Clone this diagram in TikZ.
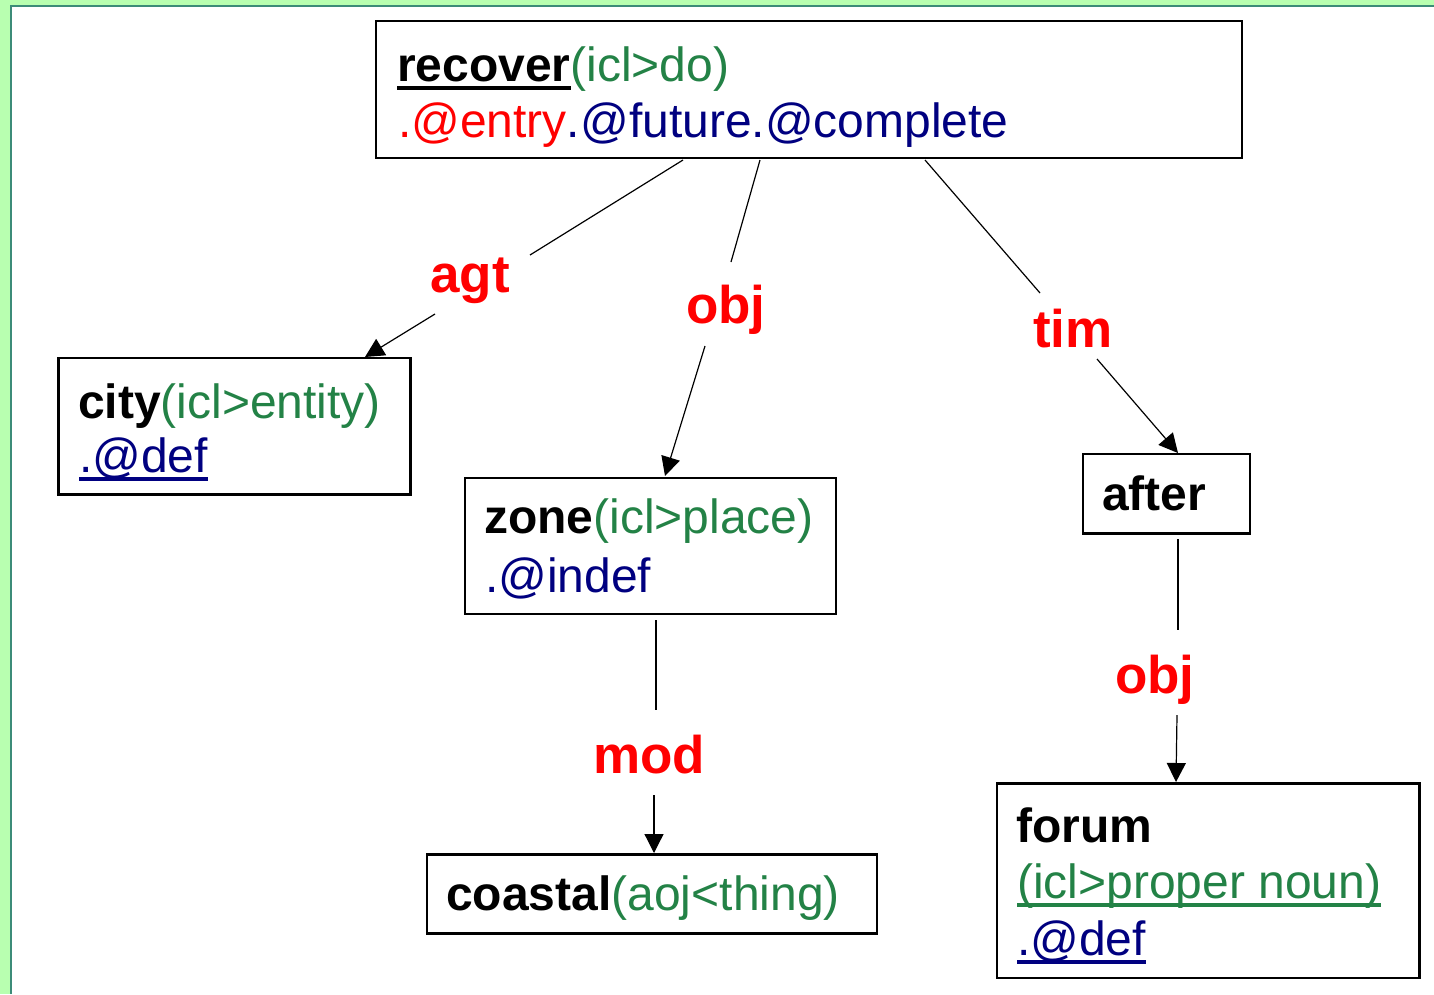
\documentclass[tikz,border=0pt]{standalone}
\usepackage{fontspec}
\setmainfont{Liberation Sans}
\usetikzlibrary{arrows.meta}
\definecolor{uwgreen}{RGB}{35,130,70}
\definecolor{uwnavy}{RGB}{0,0,128}
\definecolor{uwred}{RGB}{255,0,0}
\definecolor{bggreen}{RGB}{184,255,176}
\definecolor{bgteal}{RGB}{60,140,120}
\newcommand\ulin[1]{\setbox0\hbox{#1}\rlap{\rule[-9pt]{\wd0}{3.6pt}}\box0}
\tikzset{
  box/.style={draw=black, line width=2.6pt, rectangle, inner sep=0pt},
  txt/.style={anchor=base west, inner sep=0pt, font=\fontsize{48}{56}\selectfont},
  rel/.style={anchor=base west, inner sep=0pt, text=uwred, font=\fontsize{53}{60}\selectfont\bfseries},
  conn/.style={line width=1.2pt, draw=black},
  arr/.style={conn, -{Triangle[length=19pt,width=19pt]}}
}
\begin{document}
\begin{tikzpicture}[x=1pt,y=-1pt]
\useasboundingbox (0,0) rectangle (1434,994);
\fill[bggreen] (0,0) rectangle (1434,994);
\fill[bgteal] (10,5) rectangle (1434,994);
\fill[white] (12,7) rectangle (1434,994);

% boxes
\node[box, minimum width=866pt, minimum height=137pt] (rec) at (809,89.5) {};
\node[box, minimum width=352pt, minimum height=136.5pt] (city) at (234.5,426.25) {};
\node[box, minimum width=371pt, minimum height=136pt] (zone) at (650.5,546) {};
\node[box, minimum width=167pt, minimum height=79.7pt] (after) at (1166.5,493.85) {};
\node[box, minimum width=450pt, minimum height=79pt] (coastal) at (652,894.2) {};
\node[box, minimum width=422.5pt, minimum height=194.3pt] (forum) at (1208.25,880.85) {};

% texts
\node[txt] (recA) at (397,81) {\ulin{\textbf{recover}}\textcolor{uwgreen}{(icl>do)}};
\node[txt] (recB) at (398,137) {\textcolor{uwred}{.@entry}\textcolor{uwnavy}{.@future.@complete}};
\node[txt] (cityA) at (78,418) {\textbf{city}\textcolor{uwgreen}{(icl>entity)}};
\node[txt] (cityB) at (79,472) {\color{uwnavy}\ulin{.@def}};
\node[txt] (zoneA) at (484,533) {\textbf{zone}\textcolor{uwgreen}{(icl>place)}};
\node[txt] (zoneB) at (485,592) {\textcolor{uwnavy}{.@indef}};
\node[txt] (afterA) at (1102,510) {\textbf{after}};
\node[txt] (coastalA) at (446,910) {\textbf{coastal}\textcolor{uwgreen}{(aoj<thing)}};
\node[txt] (forumA) at (1016,842) {\textbf{forum}};
\node[txt] (forumB) at (1017,898) {\color{uwgreen}\ulin{(icl>proper noun)}};
\node[txt] (forumC) at (1017,955) {\color{uwnavy}\ulin{.@def}};

% relation labels
\node[rel] (lagt) at (430,292) {agt};
\node[rel] (lobj) at (686,323) {obj};
\node[rel] (ltim) at (1033,347) {tim};
\node[rel] (lmod) at (593,773) {mod};
\node[rel] (lobjb) at (1115,693) {obj};

% connector points
\coordinate (agtS) at (683,160);
\coordinate (agtA) at (530,255);
\coordinate (agtB) at (435,314);
\coordinate (agtT) at (365,357);
\coordinate (objS) at (760,160);
\coordinate (objA) at (731,262);
\coordinate (objB) at (705,346);
\coordinate (objT) at (665,476);
\coordinate (timS) at (925,160);
\coordinate (timA) at (1040,293);
\coordinate (timB) at (1097,359);
\coordinate (timT) at (1178,453);
\coordinate (modS) at (656,620);
\coordinate (modA) at (656,710);
\coordinate (modB) at (654,795);
\coordinate (modT) at (654,853);
\coordinate (objbS) at (1178,539);
\coordinate (objbA) at (1178,630);
\coordinate (objbB) at (1177,715);
\coordinate (objbT) at (1176,782);

\draw[conn] (agtS) -- (agtA);
\draw[arr] (agtB) -- (agtT);
\draw[conn] (objS) -- (objA);
\draw[arr] (objB) -- (objT);
\draw[conn] (timS) -- (timA);
\draw[arr] (timB) -- (timT);
\draw[conn] (modS) -- (modA);
\draw[arr] (modB) -- (modT);
\draw[conn] (objbS) -- (objbA);
\draw[arr] (objbB) -- (objbT);
\end{tikzpicture}
\end{document}
